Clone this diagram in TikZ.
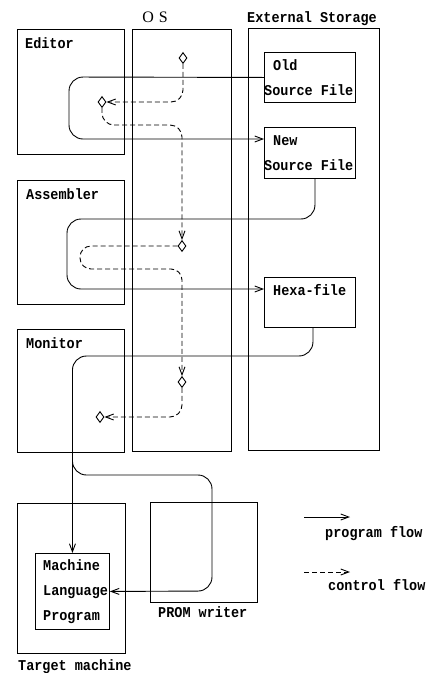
\documentclass[tikz,border=0pt]{standalone}
\usepackage{fontspec}
\setmainfont{Liberation Serif}
\newfontfamily\dotfont[FakeStretch=0.9]{Liberation Mono}
\usetikzlibrary{arrows.meta,shapes.geometric}
\begin{document}
\begin{tikzpicture}[x=1pt,y=-1pt,
  box/.style={draw, line width=0.9pt, inner sep=0pt, anchor=north west},
  lbl/.style={inner sep=0pt, anchor=base west, font=\dotfont\bfseries\fontsize{15}{15}\selectfont},
  diam/.style={diamond, draw, fill=white, line width=0.9pt, inner sep=0pt, minimum width=8pt, minimum height=11pt},
  prog/.style={line width=0.9pt, -{Straight Barb[length=8pt,width=6pt]}},
  ctrl/.style={line width=0.9pt, dash pattern=on 5pt off 3pt, -{Straight Barb[length=8pt,width=6pt]}}
]
\useasboundingbox (0,0) rectangle (435,673);
% boxes
\node[box, minimum width=107pt, minimum height=125pt] (editor) at (17,29) {};
\node[box, minimum width=99pt, minimum height=422pt] (os) at (132,29) {};
\node[box, minimum width=131pt, minimum height=422pt] (ext) at (248,28) {};
\node[box, minimum width=91pt, minimum height=50pt] (old) at (264,52) {};
\node[box, minimum width=91pt, minimum height=51pt] (new) at (264,127) {};
\node[box, minimum width=91pt, minimum height=50pt] (hexa) at (264,277) {};
\node[box, minimum width=107pt, minimum height=124pt] (asm) at (17,180) {};
\node[box, minimum width=107pt, minimum height=123pt] (mon) at (17,329) {};
\node[box, minimum width=108pt, minimum height=150pt] (target) at (17,503) {};
\node[box, minimum width=74pt, minimum height=76pt] (mlp) at (35,553) {};
\node[box, minimum width=107pt, minimum height=100pt] (prom) at (150,502) {};
% labels
\node[inner sep=0pt, anchor=base, font=\fontsize{16}{16}\selectfont] (osl) at (155,22) {O\hspace{5pt}S};
\node[lbl] (extl) at (247,22) {External Storage};
\node[lbl] (editorl) at (25,48) {Editor};
\node[lbl] (asml) at (26,199) {Assembler};
\node[lbl] (monl) at (26,348) {Monitor};
\node[lbl] (oldl1) at (273,70) {Old};
\node[lbl] (oldl2) at (264,95) {Source File};
\node[lbl] (newl1) at (273,145) {New};
\node[lbl] (newl2) at (264,170) {Source File};
\node[lbl] (hexal) at (273,295) {Hexa-file};
\node[lbl] (mlpl1) at (43,570) {Machine};
\node[lbl] (mlpl2) at (43,595) {Language};
\node[lbl] (mlpl3) at (43,620) {Program};
\node[lbl] (proml) at (158,617) {PROM writer};
\node[lbl] (targetl) at (18,670) {Target machine};
\node[lbl] (progl) at (325,537) {program flow};
\node[lbl] (ctrll) at (328,590) {control flow};
% program flow
\draw[prog, rounded corners=14pt] (old.west) -- (69,77) -- (69,139) -- (new.west |- 0,139);
\draw[prog, rounded corners=14pt] ([xshift=5pt]new.south) |- (67,219) -- (67,289) -- (hexa.west |- 0,289);
\draw[prog, rounded corners=14pt] ([xshift=3pt]hexa.south) |- (mlp.north |- 0,356) -- (mlp.north);
\draw[prog, rounded corners=14pt] (mlp.north |- 0,458) |- (212,475) -- (212,591) -- (mlp.east);
% diamonds
\node[diam] (d1) at (183,58) {};
\node[diam] (d2) at (102,102) {};
\node[diam] (d3) at (182,246) {};
\node[diam] (d4) at (182,382) {};
\node[diam] (d5) at (100,417) {};
% control flow
\draw[ctrl, rounded corners=12pt] (d1.south) |- (d2.east);
\draw[ctrl, rounded corners=12pt] (d2.south) |- (182,125) -- (d3.north);
\draw[ctrl, rounded corners=11pt] (d3.west) -- (80,246) -- (80,269) -- (182,269) -- (d4.north);
\draw[ctrl, rounded corners=12pt] (d4.south) |- (d5.east);
% legend
\coordinate (lp1) at (304,517);
\coordinate (lp2) at (350,517);
\coordinate (lc1) at (304,572);
\coordinate (lc2) at (350,572);
\draw[prog] (lp1) -- (lp2);
\draw[ctrl] (lc1) -- (lc2);
\end{tikzpicture}
\end{document}
